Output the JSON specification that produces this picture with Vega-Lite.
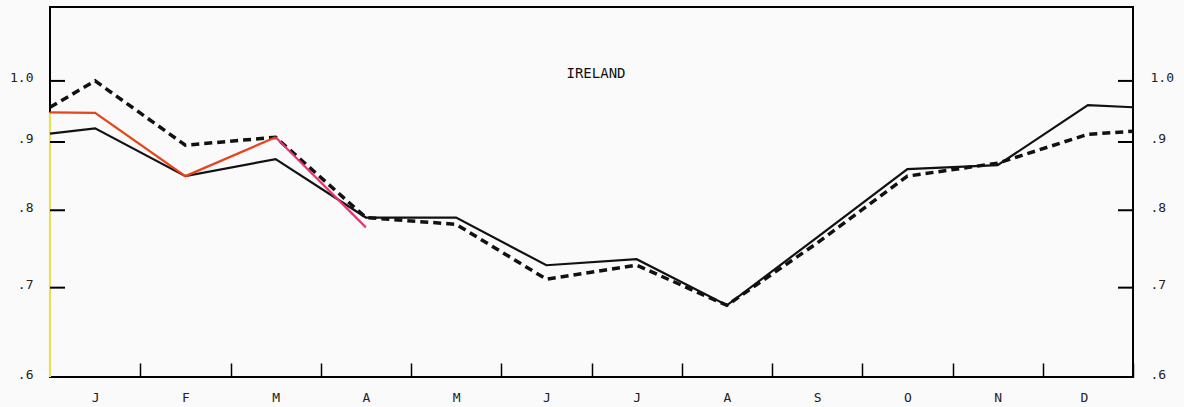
{
  "$schema": "https://vega.github.io/schema/vega-lite/v6.json",
  "width": 1083,
  "height": 370,
  "autosize": {"type": "none"},
  "padding": {"left": 50, "top": 7, "right": 51, "bottom": 30},
  "background": "#fafafa",
  "config": {
    "view": {"stroke": "#000000", "strokeWidth": 2},
    "font": "DejaVu Sans Mono",
    "axis": {
      "grid": false,
      "domain": false,
      "tickColor": "#000000",
      "tickWidth": 1.5,
      "labelFont": "DejaVu Sans Mono",
      "labelColor": "#222222",
      "title": null
    }
  },
  "datasets": {
    "series": [
      {"s": "yellow", "m": 0, "v": 0.6},
      {"s": "yellow", "m": 0, "v": 0.947},
      {"s": "dashed", "m": 0, "v": 0.9556},
      {"s": "dashed", "m": 0.5, "v": 1.0},
      {"s": "dashed", "m": 1.5, "v": 0.895},
      {"s": "dashed", "m": 2.5, "v": 0.9074},
      {"s": "dashed", "m": 3.5, "v": 0.79},
      {"s": "dashed", "m": 4.5, "v": 0.7808},
      {"s": "dashed", "m": 5.5, "v": 0.7103},
      {"s": "dashed", "m": 6.5, "v": 0.7276},
      {"s": "dashed", "m": 7.5, "v": 0.679},
      {"s": "dashed", "m": 8.5, "v": 0.756},
      {"s": "dashed", "m": 9.5, "v": 0.8485},
      {"s": "dashed", "m": 10.5, "v": 0.8677},
      {"s": "dashed", "m": 11.5, "v": 0.912},
      {"s": "dashed", "m": 12, "v": 0.9168},
      {"s": "solid", "m": 0, "v": 0.913},
      {"s": "solid", "m": 0.5, "v": 0.9215},
      {"s": "solid", "m": 1.5, "v": 0.8485},
      {"s": "solid", "m": 2.5, "v": 0.8737},
      {"s": "solid", "m": 3.5, "v": 0.79},
      {"s": "solid", "m": 4.5, "v": 0.79},
      {"s": "solid", "m": 5.5, "v": 0.7276},
      {"s": "solid", "m": 6.5, "v": 0.7352},
      {"s": "solid", "m": 7.5, "v": 0.679},
      {"s": "solid", "m": 8.5, "v": 0.7634},
      {"s": "solid", "m": 9.5, "v": 0.8588},
      {"s": "solid", "m": 10.5, "v": 0.8647},
      {"s": "solid", "m": 11.5, "v": 0.959},
      {"s": "solid", "m": 12, "v": 0.9556},
      {"s": "red", "m": 0, "v": 0.9473},
      {"s": "red", "m": 0.5, "v": 0.9465},
      {"s": "red", "m": 1.5, "v": 0.8485},
      {"s": "red", "m": 2.5, "v": 0.9074},
      {"s": "pink", "m": 2.5, "v": 0.9074},
      {"s": "pink", "m": 3.5, "v": 0.7767}
    ],
    "yticks": [
      {"g": "L7", "m": 0, "v": 0.7}, {"g": "L7", "m": 0.166, "v": 0.7},
      {"g": "L8", "m": 0, "v": 0.8}, {"g": "L8", "m": 0.166, "v": 0.8},
      {"g": "L9", "m": 0, "v": 0.9}, {"g": "L9", "m": 0.166, "v": 0.9},
      {"g": "L10", "m": 0, "v": 1.0}, {"g": "L10", "m": 0.166, "v": 1.0},
      {"g": "R7", "m": 11.834, "v": 0.7}, {"g": "R7", "m": 12, "v": 0.7},
      {"g": "R8", "m": 11.834, "v": 0.8}, {"g": "R8", "m": 12, "v": 0.8},
      {"g": "R9", "m": 11.834, "v": 0.9}, {"g": "R9", "m": 12, "v": 0.9},
      {"g": "R10", "m": 11.834, "v": 1.0}, {"g": "R10", "m": 12, "v": 1.0}
    ],
    "label": [{"t": "IRELAND", "m": 6.05, "v": 1.012}]
  },
  "layer": [
    {
      "layer": [
        {
          "data": {"name": "series"},
          "transform": [{"filter": "datum.s == 'dashed'"}],
          "mark": {"type": "line", "color": "#111111", "strokeWidth": 3.5, "strokeDash": [8, 5], "strokeCap": "butt"},
          "encoding": {
            "x": {
              "field": "m", "type": "quantitative",
              "scale": {"domain": [0, 12], "nice": false, "zero": false},
              "axis": {
                "values": [1, 2, 3, 4, 5, 6, 7, 8, 9, 10, 11, 12],
                "labelExpr": "['J','F','M','A','M','J','J','A','S','O','N','D'][datum.value - 1]",
                "labelOffset": -45.1,
                "tickSize": -14,
                "labelPadding": 28,
                "labelFontSize": 13,
                "labelAngle": 0
              }
            },
            "y": {
              "field": "v", "type": "quantitative",
              "scale": {"type": "log", "domain": [0.6, 1.136], "nice": false, "zero": false},
              "axis": {
                "orient": "left",
                "ticks": false,
                "values": [0.6, 0.7, 0.8, 0.9, 1.0],
                "labelExpr": "datum.value >= 1 ? '1.0' : '.' + round(datum.value * 10)",
                "labelPadding": 17,
                "labelFontSize": 13,
                "labelOffset": -3
              }
            },
            "order": {"field": "m", "type": "quantitative"}
          }
        },
        {
          "data": {"name": "series"},
          "transform": [{"filter": "datum.s != 'dashed'"}],
          "mark": {"type": "line", "strokeWidth": 2.2, "strokeJoin": "miter"},
          "encoding": {
            "x": {"field": "m", "type": "quantitative"},
            "y": {"field": "v", "type": "quantitative"},
            "color": {
              "field": "s", "type": "nominal", "legend": null,
              "scale": {"domain": ["yellow", "solid", "red", "pink"], "range": ["#e6e05a", "#111111", "#e8441c", "#e8336f"]}
            },
            "order": {"field": "m", "type": "quantitative"}
          }
        },
        {
          "data": {"name": "yticks"},
          "mark": {"type": "line", "color": "#000000", "strokeWidth": 2},
          "encoding": {
            "x": {"field": "m", "type": "quantitative"},
            "y": {"field": "v", "type": "quantitative"},
            "detail": {"field": "g", "type": "nominal"},
            "order": {"field": "m", "type": "quantitative"}
          }
        },
        {
          "data": {"name": "label"},
          "mark": {"type": "text", "font": "DejaVu Sans Mono", "fontSize": 14, "baseline": "middle", "align": "center", "color": "#111111"},
          "encoding": {
            "x": {"field": "m", "type": "quantitative"},
            "y": {"field": "v", "type": "quantitative"},
            "text": {"field": "t"}
          }
        }
      ]
    },
    {
      "data": {"name": "yticks"},
      "mark": {"type": "point", "opacity": 0},
      "encoding": {
        "x": {"field": "m", "type": "quantitative"},
        "y": {
          "field": "v", "type": "quantitative",
          "axis": {
            "orient": "right",
            "ticks": false,
            "values": [0.6, 0.7, 0.8, 0.9, 1.0],
            "labelExpr": "datum.value >= 1 ? '1.0' : '.' + round(datum.value * 10)",
            "labelPadding": 17,
            "labelFontSize": 13,
            "labelOffset": -3
          }
        }
      }
    }
  ],
  "resolve": {"axis": {"y": "independent"}}
}
